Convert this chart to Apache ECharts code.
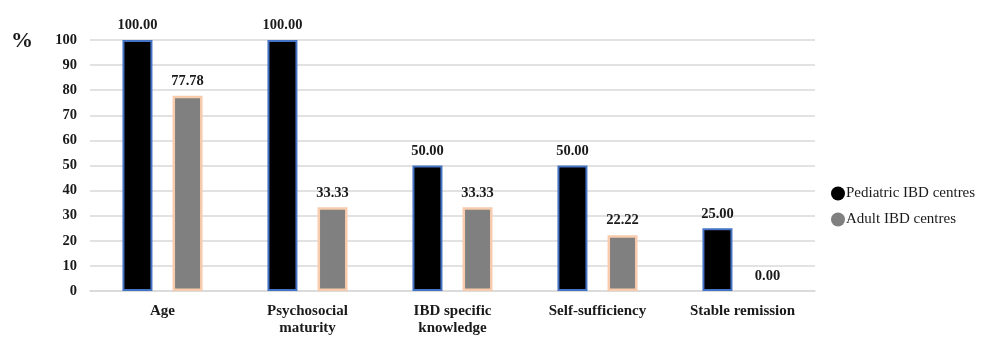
<!DOCTYPE html>
<html>
<head>
<meta charset="utf-8">
<script src="https://cdn.jsdelivr.net/npm/echarts@6/dist/echarts.min.js"></script>
<style>
  html, body { margin: 0; padding: 0; background: #fff; }
  #chart { width: 983px; height: 337px; }
</style>
</head>
<body>
<div id="chart"></div>
<script>
// Transition criteria reported by IBD centres (%)
const categories = ['Age', 'Psychosocial\nmaturity', 'IBD specific\nknowledge', 'Self-sufficiency', 'Stable remission'];
const pediatricValues = [100.00, 100.00, 50.00, 50.00, 25.00];
const adultValues = [77.78, 33.33, 33.33, 22.22, 0.00];
const seriesNames = ['Pediatric IBD centres', 'Adult IBD centres'];

const serif = '"Liberation Serif", "Times New Roman", serif';
const chart = echarts.init(document.getElementById('chart'));

const labelStyle = {
  show: true,
  position: 'top',
  distance: 7,
  fontFamily: serif,
  fontWeight: 'bold',
  fontSize: 14.5,
  color: '#1a1a1a',
  formatter: p => p.value.toFixed(2)
};

// zero-height bars show only their value label, no outline
const barData = (values) => values.map(v => (v === 0 ? { value: v, itemStyle: { borderWidth: 0 } } : v));

chart.setOption({
  animation: false,
  backgroundColor: '#fff',
  textStyle: { fontFamily: serif },
  graphic: [{
    type: 'text',
    left: 11,
    top: 30,
    style: { text: '%', font: 'bold 22px ' + serif, fill: '#1a1a1a' }
  }],
  legend: {
    orient: 'vertical',
    left: 826,
    top: 181,
    itemGap: 11,
    itemWidth: 14,
    itemHeight: 14,
    icon: 'circle',
    itemStyle: { borderWidth: 0 },
    textStyle: { fontFamily: serif, fontSize: 15, color: '#1a1a1a', padding: [0, 0, 0, -4] },
    data: seriesNames
  },
  grid: { left: 90, right: 168, top: 40, bottom: 44 },
  xAxis: {
    type: 'category',
    data: categories,
    axisTick: { show: false },
    axisLine: { lineStyle: { color: '#d9d9d9', width: 1.5 } },
    axisLabel: {
      fontFamily: serif,
      fontWeight: 'bold',
      fontSize: 15,
      color: '#1a1a1a',
      margin: 12,
      lineHeight: 17,
      interval: 0
    }
  },
  yAxis: {
    type: 'value',
    min: 0,
    max: 100,
    interval: 10,
    axisLine: { show: false },
    axisTick: { show: false },
    splitLine: { lineStyle: { color: '#d9d9d9', width: 1.5 } },
    axisLabel: {
      fontFamily: serif,
      fontWeight: 'bold',
      fontSize: 14.5,
      color: '#1a1a1a',
      margin: 13
    }
  },
  series: [
    {
      name: seriesNames[0],
      type: 'bar',
      data: barData(pediatricValues),
      barWidth: 30,
      barGap: '67%',
      itemStyle: { color: '#000', borderColor: '#4472c4', borderWidth: 2 },
      label: labelStyle
    },
    {
      name: seriesNames[1],
      type: 'bar',
      data: barData(adultValues),
      barWidth: 30,
      itemStyle: { color: '#808080', borderColor: '#f8cbad', borderWidth: 2.5 },
      label: labelStyle
    }
  ]
});
</script>
</body>
</html>
